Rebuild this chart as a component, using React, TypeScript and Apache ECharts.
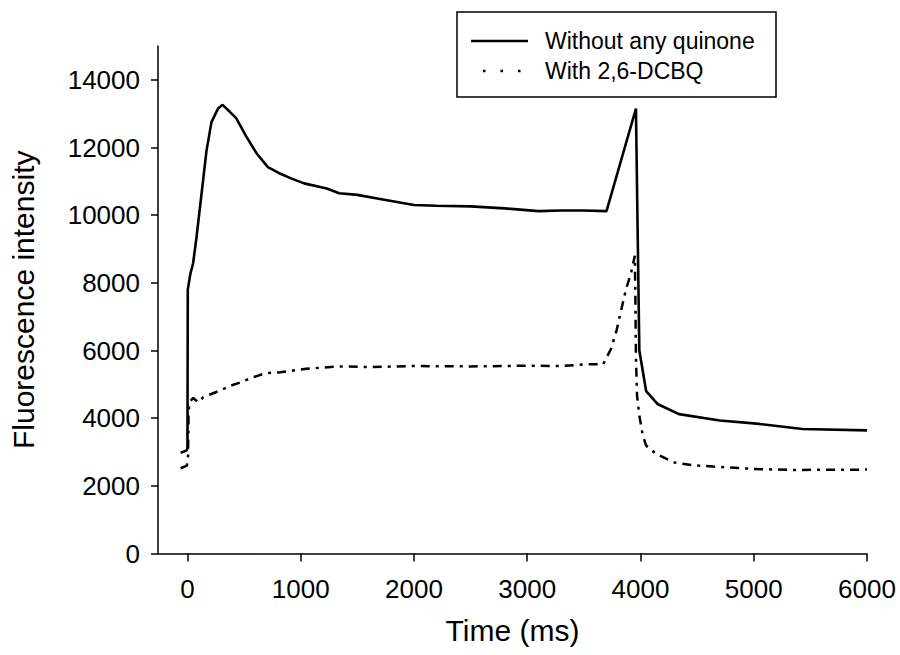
import React, { useEffect, useRef } from "react";
import * as echarts from "echarts";

const xTicks = [0, 1000, 2000, 3000, 4000, 5000, 6000];
const yTicks = [0, 2000, 4000, 6000, 8000, 10000, 12000, 14000];

const seriesNames = ["Without any quinone", "With 2,6-DCBQ"];

const withoutQuinone: [number, number][] = [
  [-60, 2980], [-10, 3040], [0, 3100], [3, 7800], [25, 8250], [50, 8580], [80, 9350], [120, 10500],
  [168, 11900], [212, 12750], [270, 13150], [310, 13260], [370, 13070], [430, 12870],
  [520, 12320], [610, 11830], [710, 11420], [810, 11240], [920, 11080], [1030, 10940],
  [1230, 10790], [1340, 10650], [1500, 10600], [1700, 10480], [2000, 10300], [2200, 10280],
  [2500, 10260], [2800, 10200], [3100, 10120], [3300, 10140], [3500, 10140], [3700, 10120],
  [3960, 13150], [3975, 9500], [3990, 6000], [4050, 4800], [4150, 4420], [4340, 4120],
  [4700, 3930], [5050, 3830], [5430, 3680], [6000, 3640],
];

const withDCBQ: [number, number][] = [
  [-60, 2520], [-5, 2600], [5, 2850], [10, 4200], [20, 4470], [50, 4600], [95, 4470],
  [140, 4620], [200, 4700], [290, 4820], [380, 4960], [470, 5060], [580, 5210], [690, 5330],
  [820, 5360], [1050, 5460], [1340, 5530], [1600, 5510], [2000, 5540], [2500, 5530],
  [3000, 5550], [3300, 5540], [3500, 5590], [3670, 5590], [3740, 6050], [3790, 6610],
  [3830, 7200], [3870, 7780], [3920, 8340], [3950, 8800], [3955, 7500], [3960, 5800],
  [3970, 4650], [3990, 4070], [4020, 3500], [4050, 3190], [4140, 2940], [4300, 2690],
  [4460, 2610], [4640, 2570], [5000, 2500], [5350, 2470], [6000, 2480],
];

const FONT = "Liberation Sans, Arial, sans-serif";

export default function App() {
  const ref = useRef<HTMLDivElement>(null);
  useEffect(() => {
    if (!ref.current) return;
    const chart = echarts.init(ref.current, null, { renderer: "svg" });
    chart.setOption({
      animation: false,
      backgroundColor: "#ffffff",
      grid: { left: 158, right: 33, top: 46, bottom: 101.5, containLabel: false },
      xAxis: {
        type: "value",
        min: -260,
        max: 6000,
        name: "Time (ms)",
        nameLocation: "middle",
        nameGap: 62,
        nameTextStyle: { fontFamily: FONT, fontSize: 30, color: "#000" },
        axisLine: { show: true, onZero: false, lineStyle: { color: "#000", width: 1.5 } },
        axisTick: { show: true, length: 8, customValues: xTicks, lineStyle: { color: "#000", width: 1.5 } },
        axisLabel: {
          customValues: xTicks,
          formatter: (v: number) => String(v),
          fontFamily: FONT,
          fontSize: 26,
          color: "#000",
          margin: 22,
        },
        splitLine: { show: false },
      },
      yAxis: {
        type: "value",
        min: 0,
        max: 15000,
        name: "Fluorescence intensity",
        nameLocation: "middle",
        nameGap: 120,
        nameTextStyle: { fontFamily: FONT, fontSize: 30, color: "#000" },
        axisLine: { show: true, onZero: false, lineStyle: { color: "#000", width: 1.5 } },
        axisTick: { show: true, length: 7, customValues: yTicks, lineStyle: { color: "#000", width: 1.5 } },
        axisLabel: {
          customValues: yTicks,
          formatter: (v: number) => String(v),
          fontFamily: FONT,
          fontSize: 26,
          color: "#000",
          margin: 18,
        },
        splitLine: { show: false },
      },
      series: [
        {
          name: seriesNames[0],
          type: "line",
          data: withoutQuinone,
          symbol: "none",
          lineStyle: { color: "#000", width: 2.6 },
        },
        {
          name: seriesNames[1],
          type: "line",
          data: withDCBQ,
          symbol: "none",
          lineStyle: { color: "#000", width: 2.5, type: [9, 6, 3, 6] },
        },
      ],
      graphic: [
        {
          type: "rect",
          shape: { x: 457, y: 12, width: 319, height: 85 },
          style: { fill: "#fff", stroke: "#000", lineWidth: 1.5 },
          z: 10,
        },
        {
          type: "line",
          shape: { x1: 471, y1: 41, x2: 528, y2: 41 },
          style: { stroke: "#000", lineWidth: 2.4 },
          z: 11,
        },
        {
          type: "line",
          shape: { x1: 483, y1: 71, x2: 521, y2: 71 },
          style: { stroke: "#000", lineWidth: 2.5, lineDash: [2.5, 15] },
          z: 11,
        },
        {
          type: "text",
          x: 545,
          y: 41,
          style: { text: seriesNames[0], font: `23px ${FONT}`, fill: "#000", verticalAlign: "middle" },
          z: 11,
        },
        {
          type: "text",
          x: 545,
          y: 71,
          style: { text: seriesNames[1], font: `23px ${FONT}`, fill: "#000", verticalAlign: "middle" },
          z: 11,
        },
      ],
    });
    return () => chart.dispose();
  }, []);
  return <div ref={ref} style={{ width: 900, height: 655, position: "absolute", left: 0, top: 0 }} />;
}
